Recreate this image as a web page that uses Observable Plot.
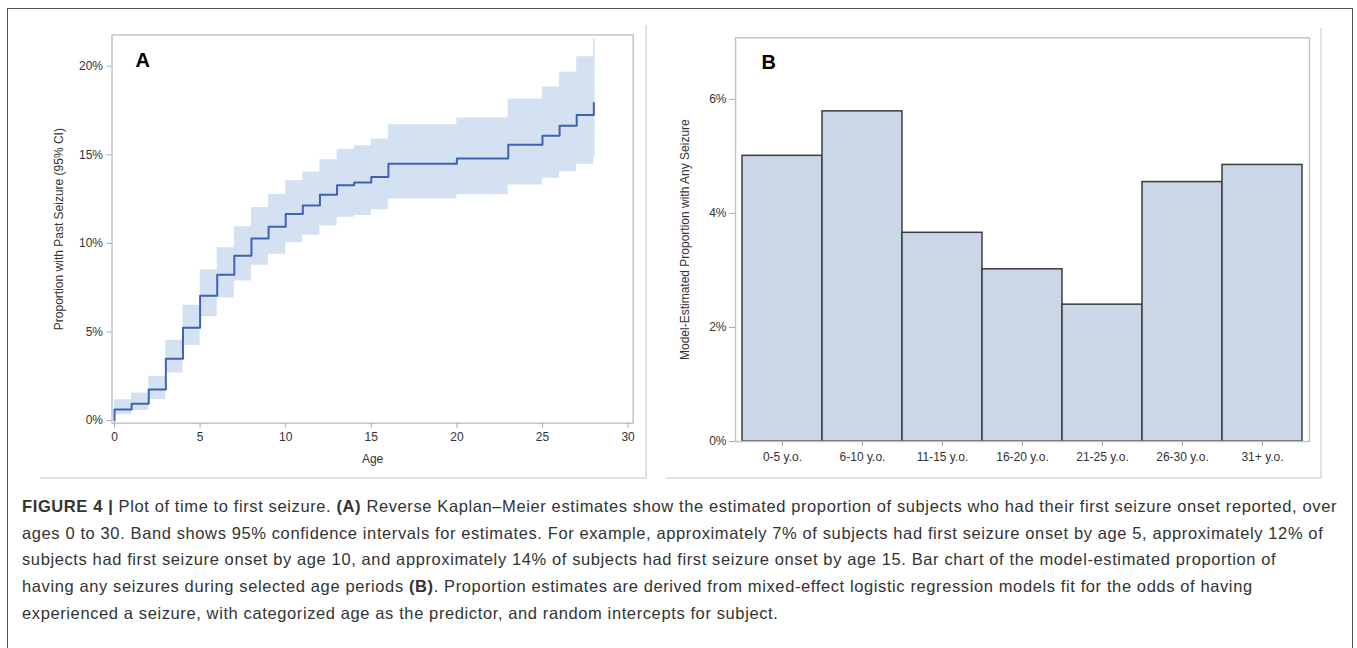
<!DOCTYPE html>
<html>
<head>
<meta charset="utf-8">
<script src="https://cdn.jsdelivr.net/npm/d3@7"></script>
<script src="https://cdn.jsdelivr.net/npm/@observablehq/plot@0.6"></script>
<style>
  html, body { margin: 0; padding: 0; background: #fff; }
  #fig { position: relative; width: 1357px; height: 648px; overflow: hidden; font-family: "Liberation Sans", Arial, sans-serif; }
  #border { position: absolute; left: 7px; top: 8px; width: 1346px; height: 660px; border: 1.5px solid #555; box-sizing: border-box; }
  .shadow { position: absolute; background: #e2e2e2; }
  .panel { position: absolute; top: 0; }
  #caption { position: absolute; left: 22px; top: 493px; font-size: 16.5px; line-height: 26.7px; color: #333; }
  #caption div { white-space: nowrap; }
  #caption span.ln { display: inline-block; }
</style>
</head>
<body>
<div id="fig">
  <div id="border"></div>
  <div class="shadow" style="left:645px; top:25px; width:1.5px; height:454px;"></div>
  <div class="shadow" style="left:40px; top:477px; width:606px; height:1.5px;"></div>
  <div class="shadow" style="left:1320px; top:28px; width:1.5px; height:451px;"></div>
  <div class="shadow" style="left:666px; top:477px; width:655px; height:1.5px;"></div>
  <div id="panelA" class="panel" style="left:0px;"></div>
  <div id="panelB" class="panel" style="left:660px;"></div>
  <div id="caption">
    <div><span class="ln" id="line1"><b>FIGURE 4 |</b> Plot of time to first seizure. <b>(A)</b> Reverse Kaplan–Meier estimates show the estimated proportion of subjects who had their first seizure onset reported, over</span></div>
    <div>ages 0 to 30. Band shows 95% confidence intervals for estimates. For example, approximately 7% of subjects had first seizure onset by age 5, approximately 12% of</div>
    <div>subjects had first seizure onset by age 10, and approximately 14% of subjects had first seizure onset by age 15. Bar chart of the model-estimated proportion of</div>
    <div>having any seizures during selected age periods <b>(B)</b>. Proportion estimates are derived from mixed-effect logistic regression models fit for the odds of having</div>
    <div>experienced a seizure, with categorized age as the predictor, and random intercepts for subject.</div>
  </div>
</div>
<script>
// ---- Panel A data: reverse Kaplan–Meier estimate (%) with 95% CI ----
const kmTime  = [0, 1, 2, 3, 4, 5, 6, 7, 8, 9, 10, 11, 12, 13, 14, 15, 16, 20, 23, 25, 26, 27, 28];
const kmEst   = [0.62, 0.94, 1.75, 3.49, 5.23, 7.04, 8.23, 9.30, 10.28, 10.94, 11.66, 12.13, 12.74, 13.28, 13.43, 13.74, 14.49, 14.79, 15.57, 16.08, 16.64, 17.25, 17.92];
const kmLower = [0.32, 0.57, 1.19, 2.68, 4.23, 5.85, 6.91, 7.87, 8.77, 9.38, 10.04, 10.45, 11.00, 11.47, 11.57, 11.89, 12.51, 12.74, 13.30, 13.68, 14.04, 14.47, 14.90];
const kmUpper = [1.17, 1.55, 2.49, 4.53, 6.51, 8.49, 9.75, 10.94, 12.02, 12.75, 13.53, 14.02, 14.72, 15.30, 15.51, 15.89, 16.70, 17.08, 18.15, 18.83, 19.66, 20.53, 21.55];
const ageTicks = [0, 5, 10, 15, 20, 25, 30];
const pctTicksA = [0, 5, 10, 15, 20];

// ---- Panel B data: model-estimated proportion (%) ----
const ageGroups = ["0-5 y.o.", "6-10 y.o.", "11-15 y.o.", "16-20 y.o.", "21-25 y.o.", "26-30 y.o.", "31+ y.o."];
const groupPct  = [5.01, 5.79, 3.66, 3.02, 2.40, 4.55, 4.85];
const pctTicksB = [0, 2, 4, 6];

// fit caption letter-spacing so the first (full) line spans the caption width
(function fitCaption() {
  const target = 1315;
  const l1 = document.getElementById("line1");
  const w0 = l1.getBoundingClientRect().width;
  const n = l1.textContent.length;
  const ls = Math.max(0, (target - w0) / n);
  document.getElementById("caption").style.letterSpacing = ls.toFixed(3) + "px";
})();

const FONT = "'Liberation Sans', Arial, sans-serif";
const km = kmTime.map((t, i) => ({time: t, est: kmEst[i], lower: kmLower[i], upper: kmUpper[i]}));
const kmLine = [{time: kmTime[0], est: 0}, ...km];
const kmLast = [km[km.length - 1]];

const plotA = Plot.plot({
  width: 660, height: 480,
  marginLeft: 111.5, marginRight: 27.3, marginTop: 34.5, marginBottom: 57.3,
  style: {fontFamily: FONT, fontSize: "11px", color: "#333", background: "transparent", overflow: "visible"},
  x: {domain: [-0.146, 30.30]},
  y: {domain: [-0.152, 21.76]},
  marks: [
    Plot.areaY(km, {x: "time", y1: "lower", y2: "upper", curve: "step-after", fill: "#d4e1f2"}),
    Plot.ruleX(kmLast, {x: "time", y1: "lower", y2: "upper", stroke: "#d4e1f2", strokeWidth: 1.5}),
    Plot.line(kmLine, {x: "time", y: "est", curve: "step-after", stroke: "#3e63b5", strokeWidth: 2}),
    Plot.frame({stroke: "#c4c4c4", strokeWidth: 1.5}),
    Plot.axisX({ticks: ageTicks, tickSize: 5, tickPadding: 4, label: null, stroke: "#aaa", fontSize: 12}),
    Plot.axisY({ticks: pctTicksA, tickFormat: d => d + "%", tickSize: 5, tickPadding: 4, label: null, stroke: "#aaa", fontSize: 12}),
    Plot.text(["Age"], {frameAnchor: "bottom", lineAnchor: "middle", dy: 36, fontSize: 12, fill: "#333"}),
    Plot.text(["Proportion with Past Seizure (95% CI)"], {frameAnchor: "left", rotate: -90, textAnchor: "middle", lineAnchor: "middle", dx: -53, fontSize: 12, fill: "#333"}),
    Plot.text(["A"], {frameAnchor: "top-left", textAnchor: "start", lineAnchor: "middle", dx: 23.5, dy: 25.5, fontSize: 20, fontWeight: "bold", fill: "#000"})
  ]
});
document.getElementById("panelA").appendChild(plotA);

const bars = ageGroups.map((g, i) => ({group: g, value: groupPct[i]}));
const plotB = Plot.plot({
  width: 680, height: 480,
  marginLeft: 75, marginRight: 31, marginTop: 37.3, marginBottom: 39,
  style: {fontFamily: FONT, fontSize: "11px", color: "#333", background: "transparent", overflow: "visible"},
  x: {domain: ageGroups, paddingInner: 0, paddingOuter: 0.045},
  y: {domain: [0, 7.08]},
  marks: [
    Plot.barY(bars, {x: "group", y: "value", fill: "#cbd6e6", stroke: "#3c3c3c", strokeWidth: 1.5}),
    Plot.frame({stroke: "#c4c4c4", strokeWidth: 1.5}),
    Plot.axisX({tickSize: 5, tickPadding: 5.5, label: null, stroke: "#aaa", fontSize: 12}),
    Plot.axisY({ticks: pctTicksB, tickFormat: d => d + "%", tickSize: 6, tickPadding: 3, label: null, stroke: "#aaa", fontSize: 12}),
    Plot.text(["Model-Estimated Proportion with Any Seizure"], {frameAnchor: "left", rotate: -90, textAnchor: "middle", lineAnchor: "middle", dx: -50, fontSize: 12, fill: "#333"}),
    Plot.text(["B"], {frameAnchor: "top-left", textAnchor: "start", lineAnchor: "middle", dx: 26, dy: 25, fontSize: 20, fontWeight: "bold", fill: "#000"})
  ]
});
document.getElementById("panelB").appendChild(plotB);
</script>
</body>
</html>
